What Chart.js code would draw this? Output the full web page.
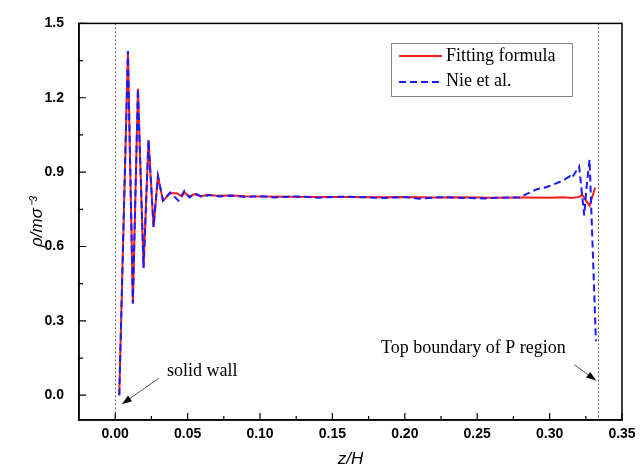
<!DOCTYPE html>
<html>
<head>
<meta charset="utf-8">
<script src="https://cdn.jsdelivr.net/npm/chart.js@4.4.1/dist/chart.umd.min.js"></script>
<style>
  html, body { margin: 0; padding: 0; background: #fff; }
</style>
</head>
<body>
<canvas id="densityChart" width="644" height="469"></canvas>
<script>
// density profile near the wall, z/H vs rho/m sigma^-3
const fitZ = [0.0028, 0.0088, 0.0122, 0.0157, 0.0196, 0.0230, 0.0265, 0.0295, 0.0330, 0.0380,
  0.0426, 0.0460, 0.0480, 0.0510, 0.0550, 0.0590, 0.0640, 0.0700, 0.0800, 0.0900,
  0.1000, 0.1200, 0.1400, 0.1600, 0.1800, 0.2000, 0.2200, 0.2400, 0.2600, 0.2800,
  0.3000, 0.3100, 0.3150, 0.3205, 0.3225, 0.3245, 0.3276, 0.3315];
const fitRho = [0.000, 1.389, 0.370, 1.236, 0.514, 1.029, 0.679, 0.884, 0.785, 0.815,
  0.815, 0.802, 0.818, 0.802, 0.811, 0.803, 0.809, 0.805, 0.806, 0.803,
  0.802, 0.801, 0.800, 0.800, 0.799, 0.800, 0.798, 0.799, 0.797, 0.798,
  0.797, 0.799, 0.796, 0.800, 0.810, 0.790, 0.765, 0.838];

const nieZ = [0.0028, 0.0088, 0.0122, 0.0157, 0.0196, 0.0230, 0.0265, 0.0295, 0.0330, 0.0380,
  0.0437, 0.0477, 0.0513, 0.0552, 0.0600, 0.0650, 0.0720, 0.0800, 0.0900, 0.1000,
  0.1100, 0.1250, 0.1400, 0.1550, 0.1700, 0.1850, 0.2000, 0.2100, 0.2250, 0.2400,
  0.2550, 0.2705, 0.2797, 0.2843, 0.2912, 0.2981, 0.3016, 0.3085, 0.3142, 0.3154,
  0.3204, 0.3239, 0.3257, 0.3276, 0.3320];
const nieRho = [0.000, 1.389, 0.370, 1.236, 0.514, 1.029, 0.679, 0.884, 0.785, 0.818,
  0.785, 0.824, 0.798, 0.814, 0.800, 0.808, 0.802, 0.806, 0.800, 0.803,
  0.798, 0.802, 0.797, 0.801, 0.799, 0.796, 0.800, 0.793, 0.799, 0.796,
  0.794, 0.798, 0.798, 0.812, 0.831, 0.840, 0.848, 0.864, 0.884, 0.877,
  0.923, 0.725, 0.851, 0.950, 0.218];

const xTicks = [0, 0.05, 0.10, 0.15, 0.20, 0.25, 0.30, 0.35];
const yTicks = [0, 0.3, 0.6, 0.9, 1.2, 1.5];
const wallZ = 0;
const boundaryZ = 1 / 3;

const RED = '#ff1a1a';
const BLUE = '#1a1aff';
const serif = '"Liberation Serif", "Times New Roman", serif';
const sans = '"Liberation Sans", Arial, sans-serif';

function toPoints(xs, ys) {
  return xs.map((x, i) => ({ x: x, y: ys[i] }));
}

function arrow(ctx, x0, y0, x1, y1) {
  const ang = Math.atan2(y1 - y0, x1 - x0);
  const len = 10, half = 3.5;
  ctx.strokeStyle = '#555';
  ctx.lineWidth = 1;
  ctx.beginPath();
  ctx.moveTo(x0, y0);
  ctx.lineTo(x1 - Math.cos(ang) * len, y1 - Math.sin(ang) * len);
  ctx.stroke();
  ctx.fillStyle = '#000';
  ctx.beginPath();
  ctx.moveTo(x1, y1);
  ctx.lineTo(x1 - Math.cos(ang) * len - Math.sin(ang) * half, y1 - Math.sin(ang) * len + Math.cos(ang) * half);
  ctx.lineTo(x1 - Math.cos(ang) * len + Math.sin(ang) * half, y1 - Math.sin(ang) * len - Math.cos(ang) * half);
  ctx.closePath();
  ctx.fill();
}

const decor = {
  id: 'decor',
  beforeDatasetsDraw(chart) {
    const { ctx, chartArea: a, scales: { x } } = chart;
    ctx.save();
    ctx.strokeStyle = '#666';
    ctx.lineWidth = 1;
    ctx.setLineDash([2, 2]);
    [wallZ, boundaryZ].forEach(z => {
      const px = Math.round(x.getPixelForValue(z)) + 0.5;
      ctx.beginPath();
      ctx.moveTo(px, a.top);
      ctx.lineTo(px, a.bottom);
      ctx.stroke();
    });
    ctx.restore();
  },
  afterDraw(chart) {
    const { ctx, chartArea: a, scales: { x, y } } = chart;
    ctx.save();

    // frame
    ctx.strokeStyle = '#000';
    ctx.lineWidth = 1.5;
    ctx.strokeRect(a.left, a.top, a.right - a.left, a.bottom - a.top);

    // inward ticks
    ctx.lineWidth = 1.2;
    ctx.beginPath();
    for (let v = 0; v <= 0.3501; v += 0.025) {
      const px = x.getPixelForValue(v);
      const major = Math.round(v * 1000) % 50 === 0;
      ctx.moveTo(px, a.bottom);
      ctx.lineTo(px, a.bottom - (major ? 7 : 4));
    }
    for (let v = 0; v <= 1.5001; v += 0.15) {
      const py = y.getPixelForValue(v);
      const major = Math.round(v * 100) % 30 === 0;
      ctx.moveTo(a.left, py);
      ctx.lineTo(a.left + (major ? 7 : 4), py);
    }
    ctx.stroke();

    // legend
    ctx.fillStyle = '#fff';
    ctx.fillRect(391, 43, 181, 53);
    ctx.strokeStyle = '#888';
    ctx.lineWidth = 1;
    ctx.strokeRect(391.5, 43.5, 181, 53);
    ctx.lineWidth = 2;
    ctx.strokeStyle = RED;
    ctx.beginPath(); ctx.moveTo(399, 56); ctx.lineTo(442, 56); ctx.stroke();
    ctx.strokeStyle = BLUE;
    ctx.setLineDash([7, 4]);
    ctx.beginPath(); ctx.moveTo(399, 82); ctx.lineTo(442, 82); ctx.stroke();
    ctx.setLineDash([]);
    ctx.fillStyle = '#000';
    ctx.font = '18px ' + serif;
    ctx.textBaseline = 'middle';
    ctx.textAlign = 'left';
    ctx.fillText('Fitting formula', 446, 56);
    ctx.fillText('Nie et al.', 446, 81);

    // annotations
    ctx.fillText('solid wall', 167, 371);
    arrow(ctx, x.getPixelForValue(0.030), y.getPixelForValue(0.068),
      x.getPixelForValue(0.0046), y.getPixelForValue(-0.036));
    ctx.fillStyle = '#000';
    ctx.fillText('Top boundary of P region', 381, 348);
    arrow(ctx, x.getPixelForValue(0.317), y.getPixelForValue(0.123),
      x.getPixelForValue(0.3322), y.getPixelForValue(0.059));

    ctx.restore();
  }
};

new Chart(document.getElementById('densityChart'), {
  type: 'scatter',
  data: {
    datasets: [
      {
        label: 'Nie et al.',
        data: toPoints(nieZ, nieRho),
        showLine: true,
        borderColor: BLUE,
        borderWidth: 2,
        borderDash: [7, 4],
        pointRadius: 0,
        tension: 0
      },
      {
        label: 'Fitting formula',
        data: toPoints(fitZ, fitRho),
        showLine: true,
        borderColor: RED,
        borderWidth: 2,
        pointRadius: 0,
        tension: 0
      }
    ]
  },
  options: {
    responsive: false,
    animation: false,
    layout: { padding: { top: 16, right: 22, left: 0, bottom: 0 } },
    plugins: {
      legend: { display: false },
      tooltip: { enabled: false }
    },
    scales: {
      x: {
        type: 'linear',
        min: -0.025,
        max: 0.35,
        afterBuildTicks: s => { s.ticks = xTicks.map(v => ({ value: v })); },
        afterFit: s => { s.height = 49; },
        grid: { display: false, drawTicks: false },
        border: { display: true, color: '#000', width: 1.5 },
        ticks: {
          callback: v => v.toFixed(2),
          color: '#000',
          font: { family: sans, size: 14, weight: 'bold' },
          padding: 6,
          maxRotation: 0,
          autoSkip: false
        },
        title: {
          display: true,
          text: 'z/H',
          color: '#000',
          font: { family: sans, size: 17, style: 'italic' },
          padding: { top: 0, bottom: 0 }
        }
      },
      y: {
        type: 'linear',
        min: -0.1,
        max: 1.5,
        afterBuildTicks: s => { s.ticks = yTicks.map(v => ({ value: v })); },
        afterFit: s => { s.width = 79; },
        grid: { display: false, drawTicks: false },
        border: { display: true, color: '#000', width: 1.5 },
        ticks: {
          callback: v => v.toFixed(1),
          color: '#000',
          font: { family: sans, size: 14, weight: 'bold' },
          padding: 15,
          autoSkip: false
        },
        title: {
          display: true,
          text: 'ρ/mσ⁻³',
          color: '#000',
          font: { family: sans, size: 17, style: 'italic' },
          padding: { top: 27, bottom: 0 }
        }
      }
    }
  },
  plugins: [decor]
});
</script>
</body>
</html>
